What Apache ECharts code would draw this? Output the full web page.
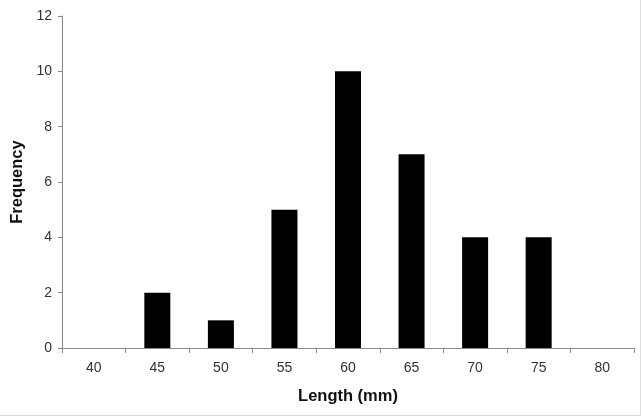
<!DOCTYPE html>
<html>
<head>
<meta charset="utf-8">
<script src="https://cdn.jsdelivr.net/npm/echarts@6/dist/echarts.min.js"></script>
<style>
html,body{margin:0;padding:0;background:#fff;}
#chart{width:640px;height:415px;border-right:1px solid #ddd;border-bottom:1px solid #ddd;}
</style>
</head>
<body>
<div id="chart"></div>
<script>
const categories = ['40','45','50','55','60','65','70','75','80'];
const frequency = [0, 2, 1, 5, 10, 7, 4, 4, 0];
const yTicks = [0, 2, 4, 6, 8, 10, 12];

const chart = echarts.init(document.getElementById('chart'));
chart.setOption({
  animation: false,
  grid: { left: 62, right: 6, top: 16, bottom: 67 },
  xAxis: {
    type: 'category',
    data: categories,
    boundaryGap: true,
    name: 'Length (mm)',
    nameLocation: 'middle',
    nameGap: 40,
    nameTextStyle: { fontFamily: 'Liberation Sans, Arial', fontWeight: 'bold', fontSize: 16.5, color: '#111' },
    axisLine: { lineStyle: { color: '#888', width: 1 } },
    axisTick: { show: true, length: 5, inside: false, alignWithLabel: false, lineStyle: { color: '#888' } },
    axisLabel: { fontFamily: 'Liberation Sans, Arial', fontSize: 14, color: '#333', margin: 13 },
    splitLine: { show: false }
  },
  yAxis: {
    type: 'value',
    min: yTicks[0],
    max: yTicks[yTicks.length - 1],
    interval: 2,
    name: 'Frequency',
    nameLocation: 'middle',
    nameGap: 35,
    nameRotate: 90,
    nameTextStyle: { fontFamily: 'Liberation Sans, Arial', fontWeight: 'bold', fontSize: 16.5, color: '#111' },
    axisLine: { show: true, lineStyle: { color: '#888', width: 1 } },
    axisTick: { show: true, length: 4, lineStyle: { color: '#888' } },
    axisLabel: { fontFamily: 'Liberation Sans, Arial', fontSize: 14, color: '#333', margin: 10 },
    splitLine: { show: false }
  },
  series: [{
    type: 'bar',
    data: frequency,
    barWidth: 26,
    itemStyle: { color: '#000' }
  }]
});
</script>
</body>
</html>
